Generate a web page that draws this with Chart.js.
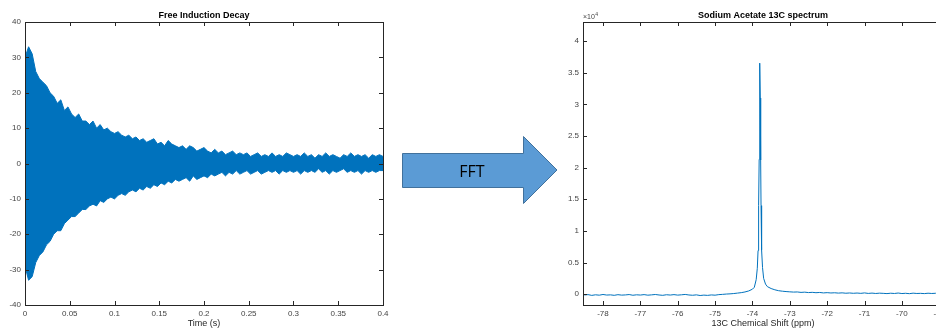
<!DOCTYPE html>
<html>
<head>
<meta charset="utf-8">
<script src="https://cdn.jsdelivr.net/npm/chart.js@4"></script>
<style>
html, body { margin: 0; padding: 0; background: #fff; overflow: hidden; }
body { width: 936px; height: 329px; position: relative; }
#fidChart { position: absolute; left: 0; top: 0; }
#specChart { position: absolute; left: 540px; top: 0; }
#arrow { position: absolute; left: 0; top: 0; }
</style>
</head>
<body>
<canvas id="fidChart" width="400" height="329"></canvas>
<svg id="arrow" width="936" height="329">
  <polygon points="402.5,153.5 523.5,153.5 523.5,136.5 557,170 523.5,203.5 523.5,187.5 402.5,187.5" fill="#5B9BD5" stroke="#41719C" stroke-width="1"/>
  <text x="472" y="171" text-anchor="middle" dominant-baseline="central" font-family="Open Sans, Liberation Sans, sans-serif" font-size="16" fill="#000">FFT</text>
</svg>
<canvas id="specChart" width="415" height="329"></canvas>
<script>
// FID: sample step of 4 ms, upper and lower extremes of the oscillation
const fidStep = 0.004
const fidUpper = [30, 33, 31, 26, 24, 23, 22, 20, 19, 17, 18, 15, 16, 14, 13, 14, 12, 12, 11, 12,
  10, 11, 9.5, 10, 9, 8.5, 9, 8, 7.5, 8, 7, 7.5, 6.5, 7, 6, 6.5, 7, 5.5, 6, 5,
  6.5, 5.5, 5, 4.5, 5, 4, 5, 4.5, 3.5, 4, 4.5, 3.5, 3, 4, 3, 3.5, 2.5, 3, 3.5, 2.5,
  3, 2.5, 3, 2, 2.5, 3, 2, 2.5, 2, 3, 2, 2.5, 2, 3, 2.5, 2, 2.5, 2, 3, 2,
  2.5, 1.5, 2.5, 2, 3, 2, 2.5, 2, 1.5, 2.5, 2, 3, 2, 2.5, 2, 2.5, 1.5, 2.5, 2, 2.5, 2]
const fidLower = [-29, -33, -32, -28, -26, -25, -23, -22, -20, -19, -19, -17, -16, -15, -15, -14, -13, -13, -12, -11.5,
  -12, -10.5, -11, -10, -9.5, -10, -9, -8.5, -9, -8, -7.5, -8, -7, -7.5, -6.5, -7, -6, -6.5, -5.5, -6,
  -5, -5.5, -4.5, -5, -4.5, -4, -5, -3.5, -4.5, -4, -3.5, -4, -3, -3.5, -3, -2.5, -3.5, -2.5, -3, -2,
  -3, -2.5, -2, -3, -2.5, -2, -3, -2.5, -2, -2.5, -2, -3, -2, -2.5, -2, -2.5, -2, -3, -2, -2.5,
  -2, -2.5, -1.5, -2.5, -2, -3, -2, -2.5, -2, -1.5, -2.5, -2, -2.5, -2, -3, -2, -2.5, -2, -2.5, -2, -2]

// spectrum: chemical shift (ppm) and intensity
const specPpm = [-78.5, -78.4, -78.3, -78.2, -78.1, -78.0, -77.9, -77.8, -77.7, -77.6,
  -77.5, -77.4, -77.3, -77.2, -77.1, -77.0, -76.9, -76.8, -76.7, -76.6,
  -76.5, -76.4, -76.3, -76.2, -76.1, -76.0, -75.9, -75.8, -75.7, -75.6,
  -75.5, -75.4, -75.3, -75.2, -75.1, -75.0, -74.9, -74.8, -74.7, -74.6,
  -74.5, -74.4, -74.3, -74.2, -74.1, -74.0, -73.95, -73.9, -73.87, -73.85,
  -73.84, -73.83, -73.82, -73.81, -73.8, -73.79, -73.78, -73.77, -73.76, -73.75,
  -73.73, -73.7, -73.65, -73.6, -73.5, -73.4, -73.3, -73.2, -73.1, -73.0,
  -72.9, -72.8, -72.7, -72.6, -72.5, -72.4, -72.3, -72.2, -72.1, -72.0,
  -71.9, -71.8, -71.7, -71.6, -71.5, -71.4, -71.3, -71.2, -71.1, -71.0,
  -70.9, -70.8, -70.7, -70.6, -70.5, -70.4, -70.3, -70.2, -70.1, -70.0,
  -69.9, -69.8, -69.7, -69.6, -69.5, -69.4, -69.3, -69.2, -69.1, -69.0, -68.9]
const specInt = [-120, -60, -180, -90, -150, -40, -130, -100, -170, -70,
  -140, -110, -50, -160, -90, -130, -60, -150, -100, -40,
  -120, -170, -80, -130, -60, -140, -90, -30, -120, -160,
  -100, -200, -140, -180, -110, -150, -60, -20, 30, 60,
  110, 180, 250, 360, 520, 800, 1100, 2300, 4100, 6900,
  9500, 14000, 21300, 31200, 36500, 31000, 21200, 14000, 9600, 7000,
  4200, 2500, 1600, 1200, 900, 700, 560, 480, 420, 380,
  340, 360, 290, 330, 260, 300, 240, 280, 210, 250,
  200, 230, 180, 220, 160, 200, 150, 190, 140, 210,
  130, 180, 120, 170, 140, 100, 160, 120, 190, 110,
  150, 90, 170, 120, 140, 100, 160, 120, 150, 110, 140]
const specYTicks = [0, 5000, 10000, 15000, 20000, 25000, 30000, 35000, 40000]

const blue = '#0072BD'
const axisCol = '#262626'
const fontFam = "'Liberation Sans', Arial, sans-serif"

// matlab style box with inward ticks
const matlabAxes = {
  id: 'matlabAxes',
  afterDatasetsDraw(chart, args, opts) {
    const {ctx, chartArea: a, scales: {x, y}} = chart
    const L = 4
    ctx.save()
    ctx.strokeStyle = axisCol
    ctx.lineWidth = 1
    ctx.beginPath()
    x.ticks.forEach(t => {
      const px = Math.round(x.getPixelForValue(t.value)) + 0.5
      ctx.moveTo(px, a.bottom); ctx.lineTo(px, a.bottom - L)
      ctx.moveTo(px, a.top); ctx.lineTo(px, a.top + L)
    })
    y.ticks.forEach(t => {
      const py = Math.round(y.getPixelForValue(t.value)) + 0.5
      ctx.moveTo(a.left, py); ctx.lineTo(a.left + L, py)
      ctx.moveTo(a.right, py); ctx.lineTo(a.right - L, py)
    })
    ctx.stroke()
    ctx.strokeRect(Math.round(a.left) + 0.5, Math.round(a.top) + 0.5,
      Math.round(a.right - a.left), Math.round(a.bottom - a.top))
    if (opts.exponent) {
      ctx.fillStyle = '#444'
      ctx.textBaseline = 'alphabetic'
      ctx.font = '7px ' + fontFam
      ctx.fillText('\u00d710', a.left, a.top - 3)
      const w = ctx.measureText('\u00d710').width
      ctx.font = '5px ' + fontFam
      ctx.fillText(opts.exponent, a.left + w + 0.5, a.top - 6)
    }
    ctx.restore()
  }
}

const tickFont = {family: fontFam, size: 8}

function baseOptions(title, xTitle) {
  return {
    responsive: false,
    animation: false,
    events: [],
    plugins: {
      legend: {display: false},
      tooltip: {enabled: false},
      title: {
        display: true,
        text: title,
        fullSize: false,
        color: '#000',
        font: {family: fontFam, size: 9, weight: 'bold'},
        padding: {top: 10.6, bottom: 0.6}
      }
    },
    scales: {
      x: {
        type: 'linear',
        grid: {display: false, drawTicks: false},
        border: {display: false},
        ticks: {color: '#444', font: tickFont, padding: 4, maxRotation: 0, includeBounds: false},
        title: {display: true, text: xTitle, color: axisCol, font: {family: fontFam, size: 9}, padding: {top: 0, bottom: 0}},
        afterFit: s => { s.height = 24 }
      },
      y: {
        type: 'linear',
        grid: {display: false, drawTicks: false},
        border: {display: false},
        ticks: {color: '#444', font: tickFont, padding: 4, includeBounds: false}
      }
    }
  }
}

const fidOpts = baseOptions('Free Induction Decay', 'Time (s)')
fidOpts.layout = {padding: {left: 0, right: 17, top: 0, bottom: 0}}
fidOpts.scales.x.min = 0
fidOpts.scales.x.max = 0.4
fidOpts.scales.x.ticks.stepSize = 0.05
fidOpts.scales.x.ticks.callback = v => String(+v.toFixed(2))
fidOpts.scales.y.min = -40
fidOpts.scales.y.max = 40
fidOpts.scales.y.ticks.stepSize = 10
fidOpts.scales.y.afterFit = s => { s.width = 25 }

new Chart(document.getElementById('fidChart'), {
  type: 'line',
  data: {
    datasets: [{
      data: fidUpper.map((u, i) => ({x: i * fidStep, y: u})),
      borderColor: blue,
      backgroundColor: blue,
      borderWidth: 1,
      pointRadius: 0,
      tension: 0,
      fill: '+1'
    }, {
      data: fidLower.map((l, i) => ({x: i * fidStep, y: l})),
      borderColor: blue,
      borderWidth: 1,
      pointRadius: 0,
      tension: 0,
      fill: false
    }]
  },
  options: fidOpts,
  plugins: [matlabAxes]
})

const specOpts = baseOptions('Sodium Acetate 13C spectrum', '13C Chemical Shift (ppm)')
specOpts.layout = {padding: {left: 0, right: 12, top: 0, bottom: 0}}
specOpts.plugins.matlabAxes = {exponent: '4'}
specOpts.scales.x.min = -78.535
specOpts.scales.x.max = -68.9
specOpts.scales.x.ticks.stepSize = 1
specOpts.scales.y.min = -1700
specOpts.scales.y.max = 43000
specOpts.scales.y.afterBuildTicks = s => { s.ticks = specYTicks.map(v => ({value: v})) }
specOpts.scales.y.ticks.callback = v => String(v / 10000)
specOpts.scales.y.afterFit = s => { s.width = 43 }

new Chart(document.getElementById('specChart'), {
  type: 'line',
  data: {
    datasets: [{
      data: specPpm.map((p, i) => ({x: p, y: specInt[i]})),
      borderColor: blue,
      borderWidth: 1,
      pointRadius: 0,
      tension: 0,
      fill: false
    }]
  },
  options: specOpts,
  plugins: [matlabAxes]
})
</script>
</body>
</html>
